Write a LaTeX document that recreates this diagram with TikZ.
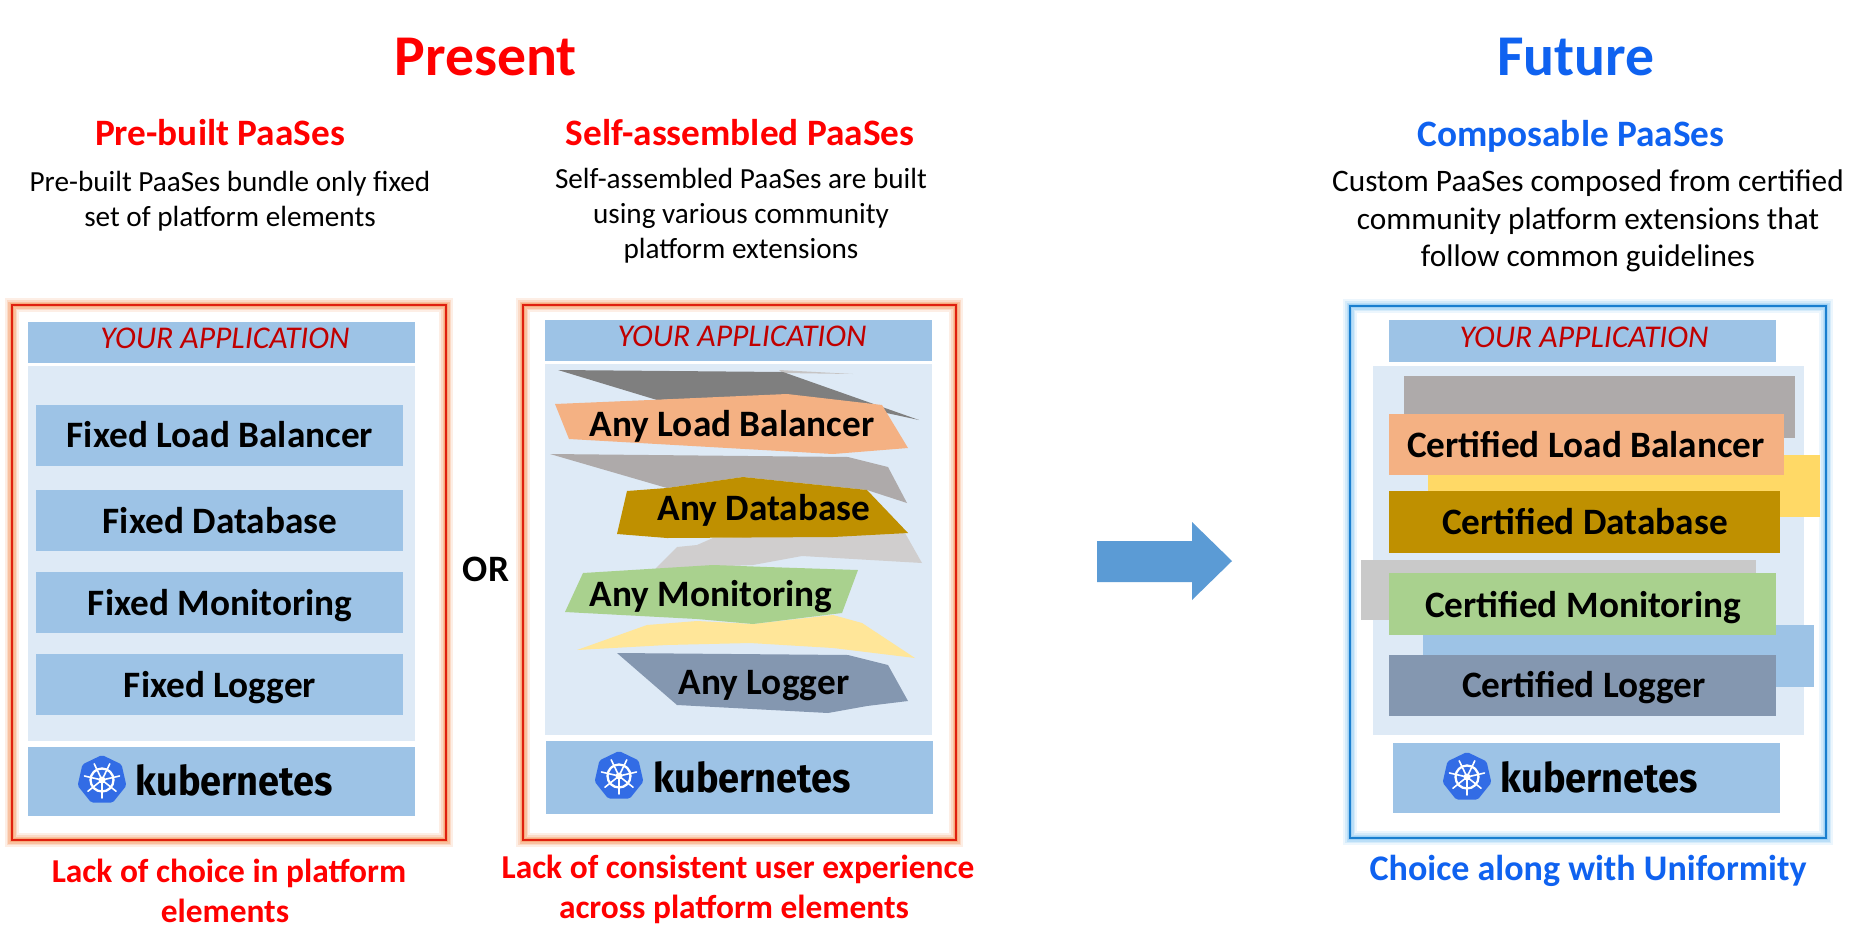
\documentclass[tikz,border=0pt]{standalone}
\usepackage{fontspec}
\setmainfont{Carlito}
\newfontfamily\kubefont[FakeStretch=0.93]{Fira Sans}
\usetikzlibrary{shapes.geometric}

\definecolor{appblue}{HTML}{9DC3E6}
\definecolor{panelblue}{HTML}{DEEAF6}
\definecolor{presentred}{HTML}{FF0000}
\definecolor{futureblue}{HTML}{0F62F0}
\definecolor{appred}{HTML}{C00000}
\definecolor{lbpeach}{HTML}{F4B183}
\definecolor{dbgold}{HTML}{BF9000}
\definecolor{mongreen}{HTML}{A9D18E}
\definecolor{logslate}{HTML}{8497B0}
\definecolor{yellowlt}{HTML}{FFE699}
\definecolor{yellowdk}{HTML}{FFD966}
\definecolor{greydk}{HTML}{7F7F7F}
\definecolor{greymd}{HTML}{AEAAAA}
\definecolor{greylt}{HTML}{D0CECE}
\definecolor{greyrect}{HTML}{C9C9C9}
\definecolor{arrowblue}{HTML}{5B9BD5}
\definecolor{kubeblue}{HTML}{326CE5}
\definecolor{framered}{HTML}{E0200F}
\definecolor{glowred}{HTML}{F58A4B}
\definecolor{frameblue}{HTML}{1A7FCF}
\definecolor{glowblue}{HTML}{7CC0F2}

\tikzset{
	lab/.style={anchor=base, inner sep=0pt, align=center, font=\fontsize{10.6pt}{10.6pt}\selectfont\bfseries},
	headline/.style={anchor=base, inner sep=0pt, font=\fontsize{16.4pt}{16.4pt}\selectfont\bfseries},
	subhead/.style={anchor=base, inner sep=0pt, font=\fontsize{10.6pt}{10.6pt}\selectfont\bfseries},
	blurb/.style={anchor=base, inner sep=0pt, font=\fontsize{8.3pt}{8.3pt}\selectfont},
	blurbwide/.style={anchor=base, inner sep=0pt, font=\fontsize{8.9pt}{8.9pt}\selectfont},
	caption/.style={anchor=base, inner sep=0pt, font=\fontsize{9.5pt}{9.5pt}\selectfont\bfseries},
	apptext/.style={anchor=base, inner sep=0pt, text=appred, font=\fontsize{9pt}{9pt}\selectfont\itshape},
	kubetext/.style={anchor=base west, inner sep=0pt, font=\fontsize{11.6pt}{11.6pt}\selectfont\kubefont\bfseries},
}

% frame with a soft glow round it
\def\glowframe[#1/#2](#3,#4)(#5,#6){
	\foreach \wd/\op in {0.14/0.14,0.105/0.2,0.07/0.3,0.045/0.4}
		\draw[#2, line width=\wd cm, opacity=\op] (#3,#4) rectangle (#5,#6);
	\draw[#1, line width=0.025cm] (#3,#4) rectangle (#5,#6);
}
% seven sided badge with the ship wheel
\def\kubelogo#1(#2,#3){
	\node[regular polygon, regular polygon sides=7, minimum size=0.5cm, inner sep=0pt, fill=kubeblue, rounded corners=0.5pt] (#1) at (#2,#3) {};
	\draw[white, line width=0.65pt] (#2,#3) circle (11.5);
	\fill[white] (#2,#3) circle (3.5);
	\foreach \ang in {90,141.4,192.9,244.3,295.7,347.1,38.6}
		\draw[white, line width=0.45pt, line cap=round] (#2,#3) -- ++(\ang:18);
}

\begin{document}
\begin{tikzpicture}[x=0.01cm, y=-0.01cm]
	\useasboundingbox (0,0) rectangle (1875,951);
	\fill[white] (0,0) rectangle (1875,951);
	
	%%%%% HEADINGS %%%%%
	\node[headline, text=presentred] (present) at (486,75) {Present};
	\node[headline, text=futureblue] (future) at (1576,75) {Future};
	
	\node[subhead, text=presentred] (prebuilt) at (220,145) {Pre-built PaaSes};
	\node[subhead, text=presentred] (selfasm) at (740,145) {Self-assembled PaaSes};
	\node[subhead, text=futureblue] (composable) at (1571,146) {Composable PaaSes};
	
	\node[blurb] (prea) at (230,191) {Pre-built PaaSes bundle only fixed};
	\node[blurb] (preb) at (230,226) {set of platform elements};
	\node[blurb] (selfa) at (741,188) {Self-assembled PaaSes are built};
	\node[blurb] (selfb) at (741,223) {using various community};
	\node[blurb] (selfc) at (741,258) {platform extensions};
	\node[blurbwide] (coma) at (1588,191) {Custom PaaSes composed from certified};
	\node[blurbwide] (comb) at (1588,229) {community platform extensions that};
	\node[blurbwide] (comc) at (1588,266) {follow common guidelines};
	
	%%%%% LEFT STACK %%%%%
	\glowframe[framered/glowred](12,305)(446,840)
	\fill[appblue] (28,322) rectangle (415,363);
	\node[apptext] (appa) at (225,348) {YOUR APPLICATION};
	\fill[panelblue] (28,366) rectangle (415,741);
	
	\fill[appblue] (36,405) rectangle (403,466);
	\fill[appblue] (36,490) rectangle (403,551);
	\fill[appblue] (36,572) rectangle (403,633);
	\fill[appblue] (36,654) rectangle (403,715);
	\node[lab] (fixlb) at (220,447) {Fixed Load Balancer};
	\node[lab] (fixdb) at (220,533) {Fixed Database};
	\node[lab] (fixmon) at (220,615) {Fixed Monitoring};
	\node[lab] (fixlog) at (220,697) {Fixed Logger};
	
	\fill[appblue] (28,747) rectangle (415,816);
	\kubelogo{logoa}(102,780)
	\node[kubetext] (kubea) at (135,795) {kubernetes};
	
	\node[lab] (orword) at (486,581) {OR};
	
	%%%%% MIDDLE STACK %%%%%
	\glowframe[framered/glowred](523,305)(956,840)
	\fill[appblue] (545,320) rectangle (932,361);
	\node[apptext] (appb) at (742,346) {YOUR APPLICATION};
	\fill[panelblue] (545,364) rectangle (932,735);
	
	\fill[greymd!70!white] (779,370) -- (853,374) -- (783,373) -- cycle;
	\fill[greydk] (558,370) -- (783,372) -- (919,420) -- (882,412) -- (787,395) -- (657,400) -- cycle;
	\fill[lbpeach] (555,404) -- (650,400) -- (787,394) -- (882,405) -- (908,448) -- (833,454) -- (569,439) -- cycle;
	\fill[greymd] (550,454) -- (848,457) -- (888,467) -- (907,503) -- (867,490) -- (743,477) -- (667,488) -- cycle;
	\fill[greylt] (655,569) -- (677,547) -- (697,545) -- (713,538) -- (905,533) -- (922,563) -- (802,556) -- (753,565) -- cycle;
	\fill[dbgold] (627,491) -- (667,488) -- (743,477) -- (867,490) -- (908,533) -- (833,537) -- (667,538) -- (617,534) -- cycle;
	\fill[yellowlt] (577,650) -- (647,625) -- (697,621) -- (753,624) -- (833,615) -- (862,623) -- (915,658) -- (833,648) -- (750,643) -- (667,645) -- cycle;
	\fill[mongreen] (583,573) -- (713,565) -- (767,567) -- (858,570) -- (842,613) -- (753,624) -- (697,619) -- (565,612) -- cycle;
	\fill[logslate] (617,653) -- (848,655) -- (888,665) -- (908,701) -- (867,706) -- (828,713) -- (677,705) -- cycle;
	\node[lab] (anylb) at (732,436) {Any Load Balancer};
	\node[lab] (anydb) at (764,520) {Any Database};
	\node[lab] (anymon) at (711,606) {Any Monitoring};
	\node[lab] (anylog) at (764,694) {Any Logger};
	
	\fill[appblue] (546,741) rectangle (933,814);
	\kubelogo{logob}(619,776)
	\node[kubetext] (kubeb) at (653,792) {kubernetes};
	
	%%%%% ARROW %%%%%
	\fill[arrowblue] (1097,541) -- (1192,541) -- (1192,522) -- (1232,561) -- (1192,600) -- (1192,582) -- (1097,582) -- cycle;
	
	%%%%% RIGHT STACK %%%%%
	\glowframe[frameblue/glowblue](1350,306)(1826,838)
	\fill[appblue] (1389,320) rectangle (1776,362);
	\node[apptext] (appc) at (1584,347) {YOUR APPLICATION};
	\fill[panelblue] (1373,366) rectangle (1804,735);
	
	\fill[greymd] (1404,376) rectangle (1795,438);
	\fill[yellowdk] (1428,455) rectangle (1820,517);
	\fill[lbpeach] (1389,414) rectangle (1784,475);
	\fill[dbgold] (1389,491) rectangle (1780,553);
	\fill[greyrect] (1361,560) rectangle (1756,620);
	\fill[appblue] (1423,625) rectangle (1814,687);
	\fill[mongreen] (1389,573) rectangle (1776,635);
	\fill[logslate] (1389,655) rectangle (1776,716);
	\node[lab] (certlb) at (1586,457) {Certified Load Balancer};
	\node[lab] (certdb) at (1585,534) {Certified Database};
	\node[lab] (certmon) at (1583,617) {Certified Monitoring};
	\node[lab] (certlog) at (1584,697) {Certified Logger};
	
	\fill[appblue] (1393,743) rectangle (1780,813);
	\kubelogo{logoc}(1467,777)
	\node[kubetext] (kubec) at (1500,792) {kubernetes};
	
	%%%%% CAPTIONS %%%%%
	\node[caption, text=presentred] (capa) at (229,882) {Lack of choice in platform};
	\node[caption, text=presentred] (capb) at (225,922) {elements};
	\node[caption, text=presentred] (capc) at (738,878) {Lack of consistent user experience};
	\node[caption, text=presentred] (capd) at (734,918) {across platform elements};
	\node[caption, font=\fontsize{10.25pt}{10.25pt}\selectfont\bfseries, text=futureblue] (cape) at (1588,880) {Choice along with Uniformity};
\end{tikzpicture}
\end{document}
